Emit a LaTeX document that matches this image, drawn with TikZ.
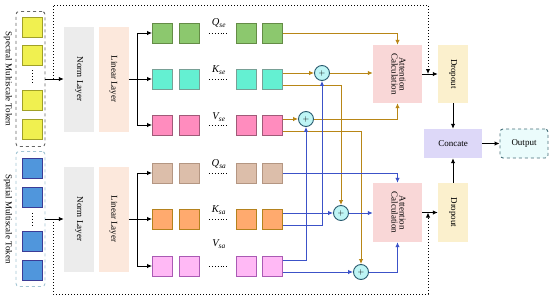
\documentclass[tikz,border=0pt]{standalone}
\usepackage{fontspec}
\setmainfont{Liberation Serif}
\usetikzlibrary{arrows.meta}
\definecolor{gold}{RGB}{184,134,22}
\definecolor{bluel}{RGB}{60,82,200}
\definecolor{circfill}{RGB}{190,245,245}
\definecolor{circdraw}{RGB}{40,90,110}
\definecolor{normgray}{RGB}{236,236,236}
\definecolor{linpeach}{RGB}{252,232,220}
\definecolor{attpink}{RGB}{249,215,215}
\definecolor{dropyel}{RGB}{251,240,205}
\definecolor{conclav}{RGB}{221,216,248}
\definecolor{outfill}{RGB}{235,252,252}
\definecolor{outdraw}{RGB}{70,110,120}
\definecolor{yelF}{RGB}{240,240,80}\definecolor{yelD}{RGB}{160,160,40}
\definecolor{bluF}{RGB}{80,150,220}\definecolor{bluD}{RGB}{60,60,150}
\definecolor{grnF}{RGB}{140,200,110}\definecolor{grnD}{RGB}{100,140,70}
\definecolor{cynF}{RGB}{100,240,210}\definecolor{cynD}{RGB}{120,160,150}
\definecolor{pnkF}{RGB}{255,140,190}\definecolor{pnkD}{RGB}{160,90,120}
\definecolor{tanF}{RGB}{220,190,170}\definecolor{tanD}{RGB}{180,150,130}
\definecolor{orgF}{RGB}{255,170,110}\definecolor{orgD}{RGB}{180,130,30}
\definecolor{vioF}{RGB}{255,185,245}\definecolor{vioD}{RGB}{170,90,180}
\begin{document}
\begin{tikzpicture}[x=1pt,y=-1pt,
  font=\fontsize{9}{10}\selectfont,
  sq/.style={draw=#1D,fill=#1F,line width=0.9pt,minimum size=20pt,inner sep=0pt},
  tokbox/.style={draw=#1,dashed,rounded corners=3pt,line width=0.9pt,fill=white,minimum width=29pt,minimum height=135pt,inner sep=0pt},
  layer/.style={fill=#1,minimum width=30pt,minimum height=105pt,inner sep=0pt},
  box/.style={fill=#1,inner sep=0pt},
  plus/.style={circle,draw=circdraw,fill=circfill,line width=0.9pt,minimum size=15pt,inner sep=0pt,font=\fontsize{8}{8}\selectfont},
  arr/.style={line width=1pt,-{Latex[length=5pt,width=4.5pt]}},
  garr/.style={draw=gold,line width=1pt,-{Latex[length=5pt,width=4.5pt]}},
  barr/.style={draw=bluel,line width=1pt,-{Latex[length=5pt,width=4.5pt]}},
  frame/.style={dotted,line width=1pt,-{Latex[length=5pt,width=4.5pt]}},
  dotsl/.style={dotted,line width=0.9pt},
  lab/.style={inner sep=0pt,font=\fontsize{10.5}{10.5}\selectfont\itshape}
]
\useasboundingbox (0,0) rectangle (550,300);

% token boxes
\node[tokbox=black!60] (tok1) at (30.5,79) {};
\node[tokbox=cyan!40!gray!60] (tok2) at (30.5,219) {};
\node[sq=yel] (y1) at (32,27) {};
\node[sq=yel] (y2) at (32,55) {};
\node[sq=yel] (y3) at (32,100) {};
\node[sq=yel] (y4) at (32,129) {};
\draw[dotsl] ([yshift=-5pt]y2.south) -- ([yshift=5pt]y3.north);
\node[sq=blu] (u1) at (32,168) {};
\node[sq=blu] (u2) at (32,197.5) {};
\node[sq=blu] (u3) at (32,241.5) {};
\node[sq=blu] (u4) at (32,270.5) {};
\draw[dotsl] ([yshift=-5pt]u2.south) -- ([yshift=5pt]u3.north);
\node[rotate=-90,inner sep=0pt] (t1) at (8,79) {Spectral Multiscale Token};
\node[rotate=-90,inner sep=0pt] (t2) at (8,219) {Spatial Multiscale Token};

% layers
\node[layer=normgray] (n1) at (79,79) {\rotatebox{-90}{Norm Layer}};
\node[layer=linpeach] (l1) at (113.5,79) {\rotatebox{-90}{Linear Layer}};
\node[layer=normgray] (n2) at (79,219) {\rotatebox{-90}{Norm Layer}};
\node[layer=linpeach] (l2) at (113.5,219) {\rotatebox{-90}{Linear Layer}};
\draw[arr] (tok1) -- (n1);
\draw[arr] (tok2) -- (n2);

% rows
\foreach \n/\c/\y in {g/grn/33,c/cyn/79,p/pnk/125,t/tan/173,o/org/219,v/vio/266}{
  \node[sq=\c] (\n1) at (162.5,\y) {};
  \node[sq=\c] (\n2) at (189.5,\y) {};
  \node[sq=\c] (\n3) at (246.5,\y) {};
  \node[sq=\c] (\n4) at (272.5,\y) {};
  \draw[dotsl] ([xshift=9pt]\n2.east) -- ([xshift=-9pt]\n3.west);
}
\node[lab] (lq1) at (219,23) {Q\textsubscript{se}};
\node[lab] (lk1) at (219,70) {K\textsubscript{se}};
\node[lab] (lv1) at (219,117) {V\textsubscript{se}};
\node[lab] (lq2) at (219,164) {Q\textsubscript{sa}};
\node[lab] (lk2) at (219,210) {K\textsubscript{sa}};
\node[lab] (lv2) at (219,244) {V\textsubscript{sa}};

% branching
\coordinate (b1) at (137,79);
\coordinate (b2) at (137,219);
\draw[line width=1pt] (l1) -- (b1);
\draw[line width=1pt] (l2) -- (b2);
\draw[arr] (b1) |- (g1);
\draw[arr] (b1) -- (c1);
\draw[arr] (b1) |- (p1);
\draw[arr] (b2) |- (t1);
\draw[arr] (b2) -- (o1);
\draw[arr] (b2) |- (v1);

% attention
\node[box=attpink,minimum width=49pt,minimum height=58pt] (att1) at (397.5,74) {\rotatebox{-90}{\begin{tabular}{@{}c@{}}Attention\\[-2pt]Calculation\end{tabular}}};
\node[box=attpink,minimum width=49pt,minimum height=59pt] (att2) at (397.5,212.5) {\rotatebox{-90}{\begin{tabular}{@{}c@{}}Attention\\[-2pt]Calculation\end{tabular}}};

% plus circles
\node[plus] (pa) at (322,73) {$+$};
\node[plus] (pb) at (306,119) {$+$};
\node[plus] (pc) at (341,213) {$+$};
\node[plus] (pd) at (361,272) {$+$};

% spectral (gold) lines
\draw[garr] (g4) -| (att1);
\draw[garr] ([yshift=6pt]c4.east) -- (pa);
\draw[garr] (pa) -- (pa -| att1.west);
\draw[garr] ([yshift=-6pt]c4.east) -| (pc);
\draw[garr] ([yshift=6pt]p4.east) -- (pb);
\draw[garr] (pb) -| (att1);
\draw[garr] ([yshift=-6pt]p4.east) -| (pd);

% spatial (blue) lines
\draw[barr] (t4) -| (att2);
\draw[barr] ([yshift=6pt]o4.east) -- (pc);
\draw[barr] (pc) -- (pc -| att2.west);
\draw[barr] ([yshift=-6pt]o4.east) -| (pa);
\draw[barr] ([yshift=6pt]v4.east) -| (pb);
\draw[barr] ([yshift=-6pt]v4.east) -- (pd);
\draw[barr] (pd) -| (att2);

% dropout, concate, output
\node[box=dropyel,minimum width=30pt,minimum height=58pt] (d1) at (453,74) {\rotatebox{-90}{Dropout}};
\node[box=dropyel,minimum width=30pt,minimum height=59pt] (d2) at (453,212.5) {\rotatebox{-90}{Dropout}};
\node[box=conclav,minimum width=58pt,minimum height=29pt] (conc) at (453,143.5) {Concate};
\node[box=outfill,draw=outdraw,dashed,line width=0.9pt,rounded corners=3pt,minimum width=48pt,minimum height=29pt] (out) at (524,143.5) {Output};
\draw[arr] (att1) -- (d1);
\draw[arr] (att2) -- (d2);
\draw[arr] (d1) -- (conc);
\draw[arr] (d2) -- (conc);
\draw[arr] (conc) -- (out);

% dotted residual frame
\coordinate (j1) at (53,79);
\coordinate (j2) at (428,74);
\coordinate (j3) at (53,219);
\coordinate (j4) at (428,212.5);
\draw[frame] (j1) |- (428,5) -- (j2);
\draw[frame] (j3) |- (428,294) -- (j4);
\end{tikzpicture}
\end{document}
